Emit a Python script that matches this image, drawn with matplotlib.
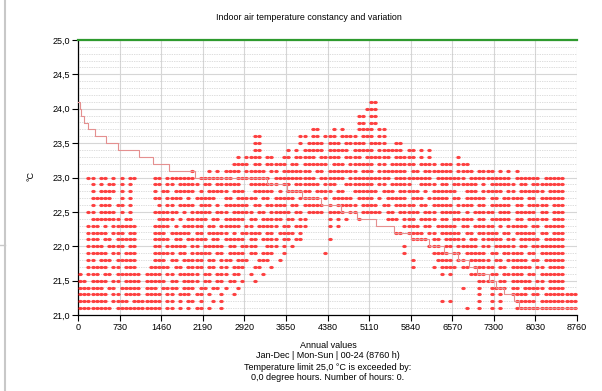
import matplotlib
matplotlib.use('Agg')
import matplotlib.pyplot as plt
from matplotlib.lines import Line2D
from matplotlib.path import Path
from matplotlib.transforms import Affine2D
import numpy as np

plt.rcParams['font.family'] = ['Liberation Sans', 'DejaVu Sans']

# scatter rows: each temperature level and the 73 h bins (0..119) where hourly values show up
bin_hours = 73
levels = [24.1, 24.0, 23.9, 23.8, 23.7, 23.6, 23.5, 23.4, 23.3, 23.2, 23.1,
          23.0, 22.9, 22.8, 22.7, 22.6, 22.5, 22.4, 22.3, 22.2, 22.1,
          22.0, 21.9, 21.8, 21.7, 21.6, 21.5, 21.4, 21.3, 21.2, 21.1]

row_runs = [
    [(70, 71)],
    [(69, 71)],
    [(67, 68), (70, 71)],
    [(67, 68), (70, 71)],
    [(56, 57), (61, 61), (63, 63), (67, 70), (72, 73)],
    [(42, 43), (53, 54), (56, 57), (59, 61), (63, 66), (68, 70), (72, 73)],
    [(42, 43), (53, 53), (55, 58), (60, 62), (64, 68), (70, 73), (76, 77)],
    [(42, 43), (50, 50), (52, 52), (54, 58), (60, 64), (66, 70), (72, 77), (79, 80), (82, 82), (84, 84)],
    [(38, 38), (40, 43), (45, 46), (49, 50), (52, 56), (58, 62), (64, 67), (69, 74), (76, 80), (82, 82),
     (84, 84), (91, 91)],
    [(37, 40), (42, 43), (45, 49), (51, 52), (54, 59), (61, 63), (65, 70), (72, 73), (75, 80), (82, 85),
     (87, 89), (91, 93)],
    [(27, 27), (31, 31), (33, 33), (35, 38), (40, 44), (46, 47), (49, 55), (57, 58), (60, 66), (68, 70),
     (72, 78), (80, 81), (83, 89), (91, 94), (96, 99), (101, 101), (103, 103), (105, 105)],
    [(2, 3), (5, 6), (8, 8), (10, 10), (12, 13), (18, 19), (21, 27), (29, 36), (38, 45), (47, 56),
     (58, 63), (65, 74), (76, 84), (86, 92), (94, 103), (105, 110), (112, 116)],
    [(3, 3), (5, 5), (7, 8), (10, 10), (12, 12), (18, 19), (21, 22), (24, 28), (30, 31), (33, 38),
     (41, 47), (49, 50), (52, 57), (59, 61), (64, 70), (72, 73), (75, 79), (82, 85), (87, 88), (90, 95),
     (97, 97), (99, 104), (106, 107), (109, 116)],
    [(3, 3), (5, 6), (7, 8), (10, 10), (12, 12), (18, 18), (20, 21), (23, 27), (29, 29), (31, 35),
     (37, 39), (42, 46), (48, 48), (50, 55), (57, 60), (62, 63), (66, 71), (73, 75), (77, 81), (83, 83),
     (85, 90), (93, 95), (97, 101), (103, 104), (106, 111), (113, 116)],
    [(3, 6), (7, 7), (10, 10), (12, 12), (18, 19), (21, 24), (26, 26), (28, 32), (35, 36), (38, 42),
     (44, 45), (47, 51), (53, 57), (59, 59), (61, 65), (67, 70), (72, 72), (74, 78), (80, 82), (84, 88),
     (90, 91), (93, 97), (99, 100), (102, 106), (108, 109), (111, 116)],
    [(3, 3), (5, 6), (7, 7), (9, 10), (12, 12), (19, 19), (21, 22), (24, 27), (29, 31), (33, 33),
     (35, 40), (42, 43), (45, 49), (51, 52), (54, 58), (60, 60), (62, 66), (68, 71), (73, 74), (76, 80),
     (82, 83), (85, 89), (91, 94), (96, 97), (99, 103), (105, 106), (108, 112), (114, 116)],
    [(2, 3), (5, 6), (7, 8), (10, 10), (12, 12), (18, 19), (20, 23), (25, 25), (27, 31), (33, 35),
     (37, 41), (43, 44), (46, 50), (52, 53), (55, 58), (60, 63), (65, 66), (68, 72), (74, 75), (77, 81),
     (83, 85), (87, 91), (93, 93), (95, 99), (101, 103), (105, 109), (111, 112), (114, 116)],
    [(3, 4), (5, 9), (11, 12), (19, 22), (24, 24), (26, 30), (32, 33), (35, 39), (41, 42), (44, 48),
     (50, 51), (53, 54), (60, 60), (62, 62), (64, 64), (67, 67), (74, 76), (78, 80), (82, 85), (87, 88),
     (90, 94), (96, 97), (99, 103), (105, 106), (108, 112), (114, 116)],
    [(2, 4), (6, 6), (8, 13), (18, 21), (23, 23), (25, 29), (31, 32), (34, 38), (40, 41), (43, 47),
     (49, 50), (52, 54), (60, 60), (62, 62), (78, 81), (83, 84), (86, 90), (92, 93), (95, 99), (101, 101),
     (103, 107), (109, 110), (112, 116)],
    [(2, 6), (8, 10), (12, 13), (18, 20), (22, 26), (28, 29), (31, 35), (37, 37), (39, 43), (45, 46),
     (48, 51), (53, 53), (76, 77), (79, 82), (84, 85), (87, 91), (93, 94), (96, 100), (102, 103),
     (105, 109), (111, 112), (114, 116)],
    [(2, 4), (6, 7), (9, 13), (18, 21), (23, 24), (26, 30), (32, 33), (35, 39), (41, 42), (44, 47),
     (49, 50), (52, 53), (60, 60), (80, 83), (85, 86), (88, 92), (94, 95), (97, 101), (103, 104),
     (106, 110), (112, 116)],
    [(2, 5), (7, 10), (12, 13), (18, 19), (21, 25), (27, 28), (30, 34), (36, 37), (39, 42), (45, 47),
     (49, 49), (51, 51), (78, 78), (84, 86), (88, 89), (91, 95), (97, 98), (100, 104), (106, 107),
     (109, 116)],
    [(2, 6), (8, 9), (11, 13), (18, 22), (24, 25), (27, 31), (33, 34), (36, 39), (41, 42), (44, 46),
     (49, 49), (59, 59), (78, 78), (85, 88), (90, 91), (93, 97), (99, 100), (102, 106), (108, 109),
     (111, 116)],
    [(2, 3), (5, 7), (9, 13), (18, 20), (22, 23), (25, 29), (31, 32), (34, 36), (38, 40), (43, 45),
     (48, 48), (80, 80), (86, 89), (91, 92), (94, 98), (100, 101), (103, 107), (109, 110), (112, 116)],
    [(2, 6), (8, 9), (11, 13), (17, 21), (23, 24), (26, 29), (31, 32), (34, 35), (37, 39), (42, 43),
     (46, 46), (80, 80), (85, 85), (87, 90), (92, 93), (95, 99), (101, 102), (104, 108), (110, 111),
     (113, 116)],
    [(0, 0), (2, 4), (6, 7), (9, 14), (16, 19), (21, 22), (24, 28), (30, 31), (33, 35), (37, 38),
     (41, 41), (44, 44), (87, 87), (89, 89), (94, 97), (99, 100), (102, 106), (108, 109), (111, 116)],
    [(0, 1), (3, 6), (8, 9), (11, 14), (16, 20), (22, 23), (25, 28), (30, 31), (33, 34), (36, 37),
     (39, 39), (42, 42), (96, 99), (101, 102), (104, 108), (110, 111), (113, 116)],
    [(0, 5), (7, 8), (10, 14), (16, 18), (20, 23), (25, 27), (29, 30), (32, 33), (35, 35), (38, 38),
     (92, 92), (96, 96), (99, 102), (104, 105), (107, 111), (113, 116)],
    [(0, 6), (8, 9), (11, 14), (16, 19), (21, 22), (24, 26), (28, 29), (31, 31), (34, 34), (37, 37),
     (96, 96), (99, 99), (101, 101), (104, 107), (109, 110), (112, 119)],
    [(0, 6), (8, 11), (13, 19), (21, 22), (24, 24), (26, 27), (29, 29), (32, 32), (34, 34), (87, 87),
     (89, 89), (96, 96), (99, 99), (101, 101), (105, 109), (111, 119)],
    [(0, 7), (9, 19), (21, 22), (24, 24), (26, 26), (28, 29), (31, 31), (34, 34), (93, 93), (96, 96),
     (99, 99), (101, 101), (105, 119)],
]

# duration curve: hour at which each level ends (sorted descending)
curve_levels = levels
curve_end_hours = [37, 60, 107, 177, 293, 486, 709, 1073, 1324, 1599, 2049,
                   3325, 3676, 3940, 4273, 4624, 4905, 5238, 5555, 5848, 6169,
                   6432, 6666, 6871, 7012, 7222, 7345, 7486, 7661, 7749, 8760]

limit_temp = 25.0
x_ticks = list(range(0, 8761, 730))
y_ticks = [21.0, 21.5, 22.0, 22.5, 23.0, 23.5, 24.0, 24.5, 25.0]

fig = plt.figure(figsize=(6.02, 3.91), dpi=100)
ax = fig.add_axes([78 / 602, 1 - 315 / 391, 499 / 602, 275 / 391])

# hourly values: one slightly flattened dot per occupied bin
xs, ys = [], []
for lev, runs in zip(levels, row_runs):
    for a, b in runs:
        for k in range(a, b + 1):
            xs.append((k + 0.5) * bin_hours)
            ys.append(lev)
flat_dot = Path.unit_circle().transformed(Affine2D().scale(1.0, 0.72))
ax.plot(xs, ys, ls='none', marker=flat_dot, ms=3.2, color='#ff1414', alpha=0.8,
        mec='none', zorder=3)

# duration curve
step_x = [0] + curve_end_hours
step_y = curve_levels + [curve_levels[-1]]
ax.step(step_x, step_y, where='post', color='#e49090', lw=0.8, zorder=4)

# limit line
ax.axhline(limit_temp, color='#2e9a2e', lw=1.6, zorder=5, clip_on=False)

ax.set_xlim(0, 8760)
ax.set_ylim(21, 25)
ax.set_xticks(x_ticks)
ax.set_xticklabels([str(t) for t in x_ticks])
ax.set_yticks(y_ticks)
ax.set_yticklabels([f'{t:.1f}'.replace('.', ',') for t in y_ticks])
ax.set_yticks(np.arange(21.0, 25.0, 0.1), minor=True)

ax.grid(True, which='major', color='#d6d6d6', lw=0.8, zorder=0)
ax.grid(True, which='minor', axis='y', color='#bdbdbd', lw=0.5, ls=(0, (1, 1.5)), zorder=0)
ax.set_axisbelow(True)

ax.tick_params(which='major', length=4, width=0.8, labelsize=6.5, pad=2)
ax.tick_params(which='minor', length=0)
for s in ['top', 'right']:
    ax.spines[s].set_visible(False)
for s in ['left', 'bottom']:
    ax.spines[s].set_linewidth(0.9)

fig.text(309 / 602, 1 - 18 / 391, 'Indoor air temperature constancy and variation',
         ha='center', va='center', fontsize=6.4)
fig.text(31 / 602, 1 - 176 / 391, '°C', rotation=90, ha='center', va='center', fontsize=6.5)

bottom_lines = ['Annual values',
                'Jan-Dec | Mon-Sun | 00-24 (8760 h)',
                'Temperature limit 25,0 °C is exceeded by:',
                '0,0 degree hours. Number of hours: 0.']
for i, line in enumerate(bottom_lines):
    fig.text(328 / 602, 1 - (345 + i * 11) / 391, line, ha='center', va='center', fontsize=6.5)

# window border left of the chart
fig.add_artist(Line2D([5 / 602, 5 / 602], [0, 1], color='#c8c8c8', lw=1.5))
fig.add_artist(Line2D([0, 5 / 602], [1 - 245 / 391, 1 - 245 / 391], color='#c8c8c8', lw=1.0))

fig.savefig('out.png', dpi=100)
